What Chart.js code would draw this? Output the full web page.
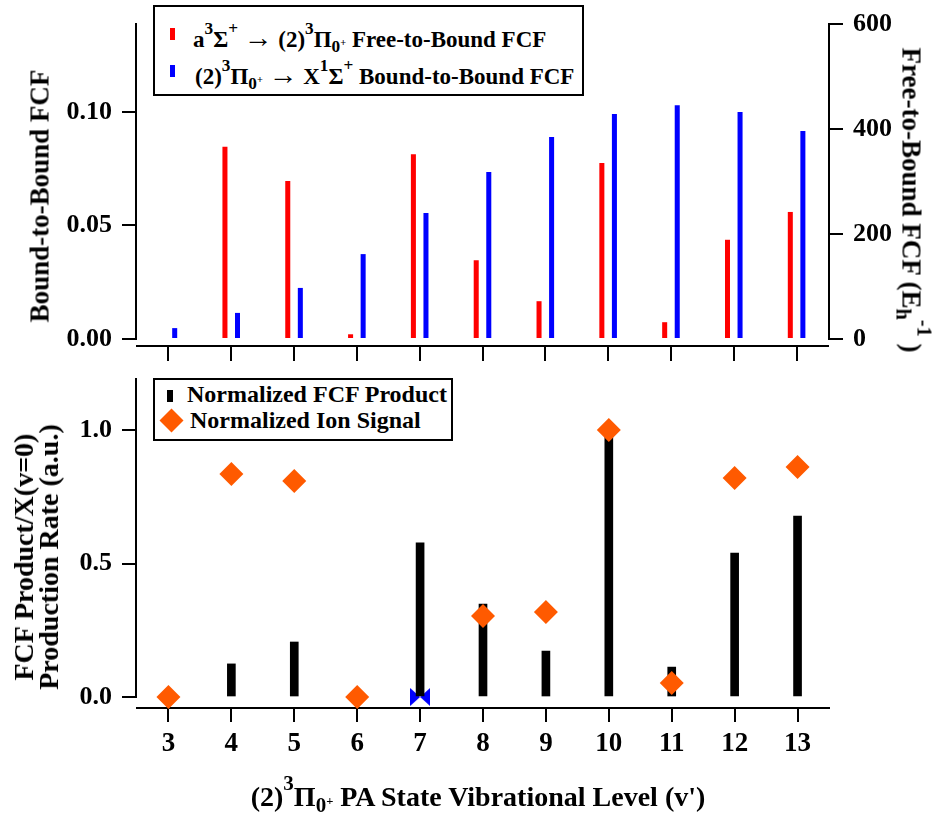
<!DOCTYPE html>
<html>
<head>
<meta charset="utf-8">
<script src="https://cdn.jsdelivr.net/npm/chart.js@4.4.0/dist/chart.umd.min.js"></script>
<style>
  body { margin: 0; background: #fff; }
  #wrap { position: relative; width: 944px; height: 813px; font-family: "Liberation Serif", "Times New Roman", serif; font-weight: bold; color: #000; }
  canvas { position: absolute; left: 0; }
  .t { position: absolute; white-space: nowrap; line-height: 1; }
  .sup { position: relative; top: -0.75em; font-size: 0.75em; }
  .sub { position: relative; top: 0.3em; font-size: 0.75em; }
  .sub .sup { top: -0.55em; font-size: 0.6em; }
  .arr { font-size: 1.25em; line-height: 0; }
  .box { position: absolute; border: 2px solid #000; background: #fff; box-sizing: border-box; }
  .sw { position: absolute; }
</style>
</head>
<body>
<div id="wrap">
  <canvas id="topChart" width="944" height="370" style="top:0"></canvas>
  <canvas id="bottomChart" width="944" height="447" style="top:366px"></canvas>

  <div class="box" style="left:153px;top:5px;width:431px;height:91px"></div>
  <div class="sw" style="left:170px;top:28px;width:5px;height:12px;background:#ff0000"></div>
  <div class="t" style="left:193px;top:28px;font-size:23px">a<span class="sup">3</span>&Sigma;<span class="sup">+</span> <span class="arr">&rarr;</span> (2)<span class="sup">3</span>&Pi;<span class="sub">0<span class="sup">+</span></span> Free-to-Bound FCF</div>
  <div class="sw" style="left:170px;top:65px;width:5px;height:12px;background:#0000ff"></div>
  <div class="t" style="left:195px;top:65px;font-size:23px">(2)<span class="sup">3</span>&Pi;<span class="sub">0<span class="sup">+</span></span> <span class="arr">&rarr;</span> X<span class="sup">1</span>&Sigma;<span class="sup">+</span> Bound-to-Bound FCF</div>

  <div class="box" style="left:153px;top:378px;width:300px;height:63px"></div>
  <div class="sw" style="left:167px;top:390px;width:6px;height:12px;background:#000"></div>
  <div class="t" style="left:187px;top:382px;font-size:24px">Normalized FCF Product</div>
  <div class="sw" style="left:163px;top:412px;width:17px;height:17px;background:#ff5a00;transform:rotate(45deg)"></div>
  <div class="t" style="left:190px;top:408px;font-size:24px">Normalized Ion Signal</div>

  <div class="t" style="left:40px;top:196px;font-size:27px;transform:translate(-50%,-50%) rotate(-90deg)">Bound-to-Bound FCF</div>
  <div class="t" style="left:911px;top:200px;font-size:27px;transform:translate(-50%,-50%) rotate(90deg)">Free-to-Bound FCF (E<span class="sub">h</span><span class="sup">-1</span> )</div>
  <div class="t" style="left:36px;top:557px;font-size:28px;line-height:25px;text-align:center;transform:translate(-50%,-50%) rotate(-90deg)">FCF Product/X(v=0)<br>Production Rate (a.u.)</div>
  <div class="t" style="left:478px;top:797px;font-size:28px;transform:translate(-50%,-50%)">(2)<span class="sup">3</span>&Pi;<span class="sub">0<span class="sup">+</span></span> PA State Vibrational Level (v')</div>
</div>

<script>
const levels = ['3', '4', '5', '6', '7', '8', '9', '10', '11', '12', '13'];
const freeToBound = [0, 366, 301, 9, 352, 150, 72, 335, 32, 189, 242];
const boundToBound = [0.0048, 0.0115, 0.0225, 0.0374, 0.0555, 0.0736, 0.089, 0.0991, 0.103, 0.100, 0.0916];
const fcfProduct = [0, 0.124, 0.206, 0, 0.577, 0.348, 0.172, 1.0, 0.112, 0.539, 0.678];
const ionSignal = [0, 0.835, 0.809, 0, null, 0.303, 0.318, 1.0, 0.052, 0.82, 0.861];
const ionSignalV7 = [null, null, null, null, 0, null, null, null, null, null, null];
const boundTicks = [0, 0.05, 0.10];
const freeTicks = [0, 200, 400, 600];
const productTicks = [0, 0.5, 1.0];

const fontFamily = '"Liberation Serif", "Times New Roman", serif';

// y axis lines stop at zero, the x axis sits a little below
const axisLines = {
    id: 'axisLines',
    afterDraw(chart) {
        const ctx = chart.ctx;
        ctx.save();
        ctx.strokeStyle = '#000';
        ctx.lineWidth = 2;
        Object.values(chart.scales).forEach(function(s) {
            if (s.axis !== 'y') return;
            const x = s.position === 'left' ? s.right - 1 : s.left + 1;
            ctx.beginPath();
            ctx.moveTo(x, s.getPixelForValue(0) + 1);
            ctx.lineTo(x, chart.chartArea.top);
            ctx.stroke();
        });
        ctx.restore();
    }
};

function yAxis(position, min, max, ticks, digits, width) {
    return {
        position: position,
        min: min,
        max: max,
        afterBuildTicks: function(s) { s.ticks = ticks.map(function(v) { return { value: v }; }); },
        afterFit: function(s) { s.width = width; s.paddingTop = 0; s.paddingBottom = 0; },
        grid: { drawOnChartArea: false, color: '#000', lineWidth: 2, tickLength: 15 },
        border: { display: false },
        ticks: {
            color: '#000',
            padding: 10,
            font: { family: fontFamily, size: 26, weight: 'bold' },
            callback: function(v) { return Number(v).toFixed(digits); }
        }
    };
}

function bowtie() {
    const c = document.createElement('canvas');
    c.width = 20;
    c.height = 18;
    const g = c.getContext('2d');
    g.fillStyle = '#0000ff';
    g.beginPath();
    g.moveTo(0, 0); g.lineTo(10, 9); g.lineTo(20, 0);
    g.lineTo(20, 18); g.lineTo(10, 9); g.lineTo(0, 18);
    g.closePath();
    g.fill();
    return c;
}

new Chart(document.getElementById('topChart'), {
    type: 'bar',
    data: {
        labels: levels,
        datasets: [{
            label: 'Free-to-Bound FCF',
            data: freeToBound,
            backgroundColor: '#ff0000',
            yAxisID: 'yR',
            categoryPercentage: 0.4,
            barPercentage: 0.4
        }, {
            label: 'Bound-to-Bound FCF',
            data: boundToBound,
            backgroundColor: '#0000ff',
            yAxisID: 'yL',
            categoryPercentage: 0.4,
            barPercentage: 0.4
        }]
    },
    options: {
        responsive: false,
        animation: false,
        layout: { padding: { top: 23, left: 0, right: 0, bottom: 0 } },
        plugins: { legend: { display: false }, tooltip: { enabled: false } },
        scales: {
            x: {
                offset: true,
                grid: { offset: false, drawOnChartArea: false, color: '#000', lineWidth: 2, tickLength: 15 },
                border: { color: '#000', width: 2 },
                ticks: { display: false },
                afterFit: function(s) { s.height = 24; s.paddingLeft = 0; s.paddingRight = 0; }
            },
            yL: yAxis('left', -0.00308, 0.1392, boundTicks, 2, 137),
            yR: yAxis('right', -13.33, 601.9, freeTicks, 0, 116)
        }
    },
    plugins: [axisLines]
});

new Chart(document.getElementById('bottomChart'), {
    data: {
        labels: levels,
        datasets: [{
            type: 'line',
            label: 'Normalized Ion Signal',
            data: ionSignal,
            showLine: false,
            pointStyle: 'rectRot',
            pointRadius: 12,
            pointBackgroundColor: '#ff5a00',
            pointBorderColor: '#ff5a00',
            pointBorderWidth: 0,
            clip: false,
            order: 0
        }, {
            type: 'bar',
            label: 'Normalized FCF Product',
            data: fcfProduct,
            backgroundColor: '#000',
            barThickness: 8,
            order: 2
        }, {
            type: 'line',
            label: 'v=7',
            data: ionSignalV7,
            showLine: false,
            pointStyle: bowtie(),
            clip: false,
            order: 3
        }]
    },
    options: {
        responsive: false,
        animation: false,
        layout: { padding: { top: 12, left: 0, right: 115, bottom: 0 } },
        plugins: { legend: { display: false }, tooltip: { enabled: false } },
        scales: {
            x: {
                offset: true,
                grid: { offset: false, drawOnChartArea: false, color: '#000', lineWidth: 2, tickLength: 14 },
                border: { color: '#000', width: 2 },
                ticks: {
                    color: '#000',
                    padding: 6,
                    maxRotation: 0,
                    autoSkip: false,
                    font: { family: fontFamily, size: 27, weight: 'bold' }
                },
                afterFit: function(s) { s.height = 105; s.paddingLeft = 0; s.paddingRight = 0; }
            },
            y: yAxis('left', -0.0412, 1.1948, productTicks, 1, 137)
        }
    },
    plugins: [axisLines]
});
</script>
</body>
</html>
